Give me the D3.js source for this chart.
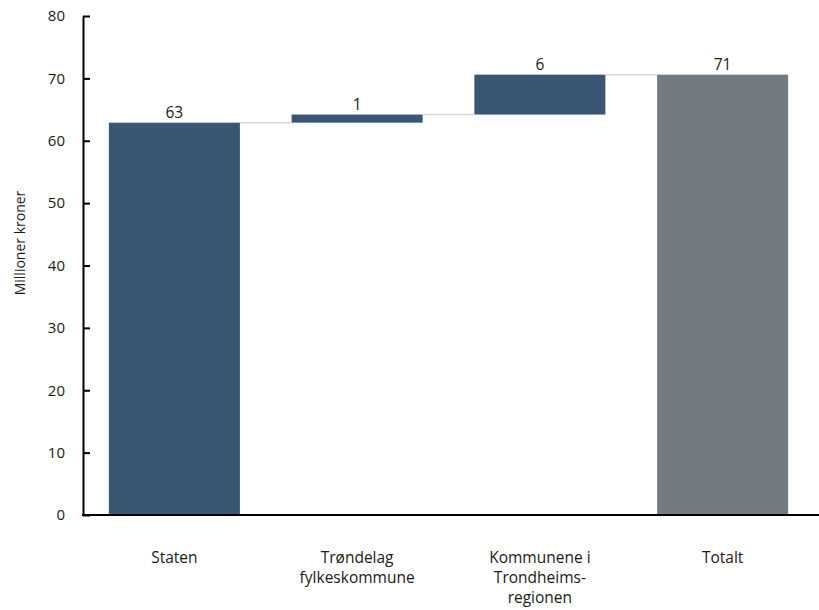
<!DOCTYPE html>
<html>
<head>
<meta charset="utf-8">
<script src="https://cdn.jsdelivr.net/npm/d3@7"></script>
<style>
  body { margin: 0; background: #fff; }
  text { font-family: "Open Sans", Lato, sans-serif; fill: #1a1a1a; }
</style>
</head>
<body>
<svg id="chart" width="819" height="610"></svg>
<script>
// Bidrag per aktør, millioner kroner (fossefall med totalsøyle til slutt)
const categories = [
  ["Staten"],
  ["Trøndelag", "fylkeskommune"],
  ["Kommunene i", "Trondheims-", "regionen"],
  ["Totalt"]
];
const contributions = [62.9, 1.3, 6.4];
const yTicks = [0, 10, 20, 30, 40, 50, 60, 70, 80];

const barColor = "#3b5675";
const totalColor = "#737a82";
const connectorColor = "#d9d9d9";
const fontFamily = "'Open Sans', Lato, sans-serif";

// Build waterfall segments
let running = 0;
const bars = contributions.map((v, i) => {
  const start = running;
  running += v;
  return { key: i, start, end: running, value: v, total: false };
});
bars.push({ key: contributions.length, start: 0, end: running, value: running, total: true });

const svg = d3.select("#chart");
const margin = { left: 83 };

const x = d3.scaleBand()
  .domain(bars.map(d => d.key))
  .range([margin.left, 814])
  .paddingInner(0.283)
  .paddingOuter(0.1415);

const y = d3.scaleLinear()
  .domain([0, 80])
  .range([515, 16]);

// Bars
svg.append("g").selectAll("rect")
  .data(bars)
  .join("rect")
  .attr("x", d => x(d.key))
  .attr("width", x.bandwidth())
  .attr("y", d => y(d.end))
  .attr("height", d => y(d.start) - y(d.end))
  .attr("fill", d => d.total ? totalColor : barColor);

// Connectors between consecutive bars
svg.append("g").selectAll("line")
  .data(bars.slice(0, -1))
  .join("line")
  .attr("x1", d => x(d.key) + x.bandwidth())
  .attr("x2", d => x(d.key + 1))
  .attr("y1", d => y(d.end))
  .attr("y2", d => y(d.end))
  .attr("stroke", connectorColor)
  .attr("stroke-width", 1.5);

// Value labels
const fmt = d3.format(".0f");
svg.append("g").selectAll("text")
  .data(bars)
  .join("text")
  .attr("x", d => x(d.key) + x.bandwidth() / 2)
  .attr("y", d => y(d.end) - 5)
  .attr("text-anchor", "middle")
  .attr("font-size", 15.5)
  .text(d => fmt(d.value));

// Y axis
const yAxis = d3.axisLeft(y)
  .tickValues(yTicks)
  .tickSizeInner(-7)
  .tickSizeOuter(0)
  .tickPadding(18)
  .tickFormat(d3.format("d"));

const gy = svg.append("g")
  .attr("transform", `translate(${margin.left},0)`)
  .call(yAxis);
gy.select(".domain").attr("stroke", "#000").attr("stroke-width", 2);
gy.selectAll(".tick line").attr("stroke", "#000").attr("stroke-width", 2);
gy.selectAll(".tick text")
  .attr("font-size", 15)
  .attr("font-family", fontFamily)
  .attr("fill", "#1a1a1a");

// X axis baseline
svg.append("line")
  .attr("x1", margin.left - 1)
  .attr("x2", 819)
  .attr("y1", y(0))
  .attr("y2", y(0))
  .attr("stroke", "#000")
  .attr("stroke-width", 2);

// Category labels
const catG = svg.append("g");
bars.forEach((d, i) => {
  const cx = x(d.key) + x.bandwidth() / 2;
  const t = catG.append("text")
    .attr("x", cx)
    .attr("y", 563)
    .attr("text-anchor", "middle")
    .attr("font-size", 15.5);
  categories[i].forEach((line, j) => {
    t.append("tspan")
      .attr("x", cx)
      .attr("dy", j === 0 ? 0 : 20)
      .text(line);
  });
});

// Y axis title
svg.append("text")
  .attr("transform", "translate(25,243) rotate(-90)")
  .attr("text-anchor", "middle")
  .attr("font-size", 14)
  .text("Millioner kroner");
</script>
</body>
</html>
